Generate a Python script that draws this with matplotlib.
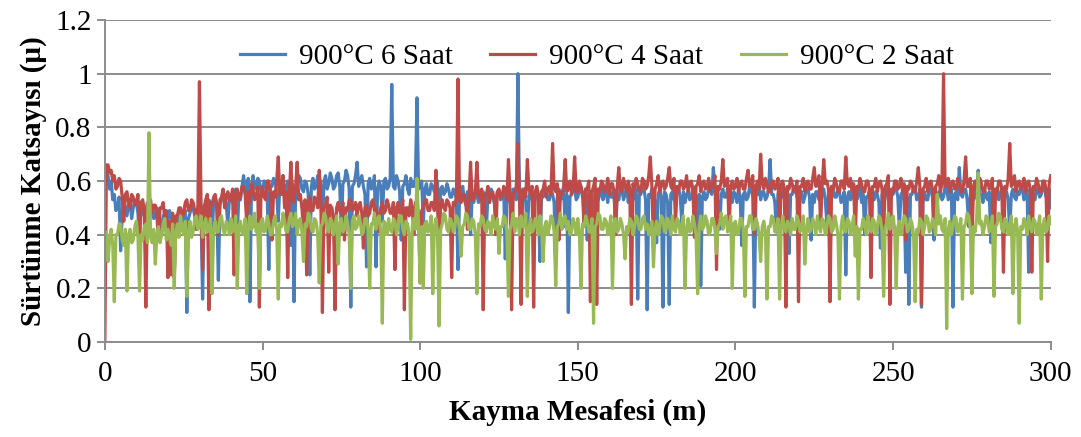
import matplotlib
matplotlib.use("Agg")
import matplotlib.pyplot as plt
import numpy as np

plt.rcParams['font.family'] = 'serif'
plt.rcParams['font.serif'] = ['Liberation Serif', 'DejaVu Serif']

# Kayma mesafesi (m), 0.5 m aralıklarla
mesafe = np.arange(0, 601) * 0.5

# 900°C 6 Saat
mu_6saat = [
    0.58, 0.63, 0.62, 0.57, 0.60, 0.53, 0.55, 0.49, 0.50, 0.54, 0.34, 0.47, 0.53, 0.50, 0.47, 0.51, 0.52, 0.46, 0.50, 0.53,
    0.52, 0.48, 0.38, 0.50, 0.50, 0.47, 0.49, 0.52, 0.45, 0.48, 0.50, 0.46, 0.47, 0.50, 0.49, 0.45, 0.40, 0.47, 0.48, 0.46,
    0.45, 0.49, 0.47, 0.44, 0.24, 0.46, 0.44, 0.48, 0.46, 0.43, 0.47, 0.49, 0.11, 0.46, 0.48, 0.51, 0.50, 0.47, 0.42, 0.49,
    0.52, 0.48, 0.16, 0.51, 0.50, 0.47, 0.53, 0.50, 0.38, 0.52, 0.54, 0.50, 0.23, 0.51, 0.53, 0.55, 0.55, 0.51, 0.44, 0.53,
    0.55, 0.52, 0.54, 0.57, 0.40, 0.55, 0.53, 0.58, 0.62, 0.56, 0.58, 0.61, 0.15, 0.57, 0.62, 0.58, 0.57, 0.61, 0.60, 0.56,
    0.56, 0.60, 0.59, 0.55, 0.27, 0.58, 0.58, 0.61, 0.60, 0.56, 0.45, 0.59, 0.59, 0.62, 0.57, 0.55, 0.60, 0.58, 0.36, 0.59,
    0.15, 0.57, 0.58, 0.62, 0.61, 0.57, 0.56, 0.60, 0.59, 0.55, 0.25, 0.58, 0.61, 0.57, 0.58, 0.62, 0.62, 0.58, 0.42, 0.60,
    0.62, 0.57, 0.59, 0.63, 0.61, 0.57, 0.58, 0.62, 0.63, 0.58, 0.40, 0.59, 0.60, 0.64, 0.62, 0.57, 0.13, 0.58, 0.59, 0.62,
    0.67, 0.58, 0.60, 0.62, 0.58, 0.55, 0.28, 0.59, 0.61, 0.57, 0.58, 0.62, 0.28, 0.57, 0.60, 0.58, 0.45, 0.60, 0.61, 0.57,
    0.58, 0.61, 0.96, 0.58, 0.57, 0.62, 0.60, 0.56, 0.38, 0.58, 0.59, 0.62, 0.57, 0.55, 0.61, 0.58, 0.58, 0.61, 0.91, 0.57,
    0.58, 0.60, 0.44, 0.57, 0.59, 0.55, 0.55, 0.59, 0.58, 0.56, 0.57, 0.60, 0.36, 0.57, 0.58, 0.55, 0.56, 0.59, 0.57, 0.54,
    0.54, 0.57, 0.56, 0.53, 0.27, 0.55, 0.55, 0.58, 0.53, 0.51, 0.56, 0.54, 0.40, 0.55, 0.52, 0.57, 0.55, 0.52, 0.53, 0.56,
    0.56, 0.53, 0.42, 0.55, 0.52, 0.57, 0.55, 0.52, 0.53, 0.56, 0.56, 0.53, 0.54, 0.57, 0.31, 0.54, 0.55, 0.52, 0.53, 0.57,
    0.56, 0.53, 1.00, 0.55, 0.54, 0.57, 0.55, 0.52, 0.40, 0.54, 0.56, 0.53, 0.52, 0.56, 0.55, 0.52, 0.30, 0.55, 0.54, 0.57,
    0.56, 0.53, 0.53, 0.57, 0.55, 0.52, 0.28, 0.54, 0.57, 0.53, 0.54, 0.57, 0.43, 0.55, 0.11, 0.54, 0.55, 0.58, 0.57, 0.53,
    0.54, 0.57, 0.58, 0.54, 0.55, 0.57, 0.38, 0.55, 0.56, 0.53, 0.30, 0.55, 0.57, 0.53, 0.55, 0.58, 0.53, 0.56, 0.56, 0.52,
    0.58, 0.54, 0.54, 0.57, 0.41, 0.55, 0.53, 0.57, 0.57, 0.53, 0.55, 0.58, 0.52, 0.55, 0.56, 0.53, 0.54, 0.57, 0.16, 0.55,
    0.55, 0.58, 0.57, 0.53, 0.12, 0.55, 0.54, 0.57, 0.56, 0.52, 0.37, 0.55, 0.57, 0.54, 0.13, 0.56, 0.55, 0.52, 0.14, 0.55,
    0.56, 0.53, 0.53, 0.57, 0.57, 0.54, 0.44, 0.56, 0.52, 0.55, 0.56, 0.53, 0.54, 0.58, 0.57, 0.53, 0.39, 0.55, 0.21, 0.54,
    0.56, 0.53, 0.54, 0.57, 0.58, 0.55, 0.65, 0.56, 0.55, 0.52, 0.42, 0.55, 0.57, 0.54, 0.54, 0.57, 0.56, 0.53, 0.52, 0.56,
    0.55, 0.52, 0.57, 0.54, 0.36, 0.55, 0.56, 0.53, 0.54, 0.58, 0.57, 0.54, 0.13, 0.55, 0.55, 0.58, 0.53, 0.56, 0.56, 0.53,
    0.54, 0.57, 0.68, 0.55, 0.55, 0.52, 0.41, 0.55, 0.57, 0.54, 0.54, 0.57, 0.56, 0.53, 0.33, 0.55, 0.55, 0.58, 0.57, 0.54,
    0.53, 0.56, 0.56, 0.52, 0.54, 0.57, 0.57, 0.54, 0.38, 0.55, 0.52, 0.56, 0.56, 0.53, 0.54, 0.57, 0.57, 0.53, 0.44, 0.55,
    0.55, 0.58, 0.57, 0.54, 0.54, 0.57, 0.56, 0.52, 0.53, 0.56, 0.25, 0.54, 0.56, 0.53, 0.54, 0.57, 0.57, 0.53, 0.55, 0.58,
    0.52, 0.55, 0.40, 0.54, 0.54, 0.57, 0.57, 0.53, 0.53, 0.56, 0.55, 0.52, 0.35, 0.55, 0.54, 0.57, 0.56, 0.53, 0.53, 0.56,
    0.55, 0.58, 0.57, 0.54, 0.42, 0.55, 0.56, 0.53, 0.26, 0.54, 0.14, 0.55, 0.55, 0.58, 0.57, 0.53, 0.54, 0.57, 0.13, 0.55,
    0.56, 0.53, 0.53, 0.57, 0.57, 0.54, 0.38, 0.55, 0.52, 0.56, 0.56, 0.53, 0.54, 0.58, 0.57, 0.53, 0.55, 0.57, 0.13, 0.55,
    0.56, 0.53, 0.65, 0.55, 0.54, 0.57, 0.57, 0.53, 0.43, 0.55, 0.56, 0.53, 0.54, 0.57, 0.64, 0.55, 0.55, 0.52, 0.57, 0.54,
    0.53, 0.56, 0.37, 0.55, 0.54, 0.57, 0.57, 0.53, 0.55, 0.58, 0.52, 0.55, 0.56, 0.53, 0.41, 0.55, 0.57, 0.54, 0.53, 0.56,
    0.55, 0.58, 0.57, 0.53, 0.54, 0.57, 0.26, 0.55, 0.56, 0.53, 0.53, 0.57, 0.57, 0.54, 0.55, 0.58, 0.58, 0.54, 0.54, 0.57,
    0.50,
]

# 900°C 4 Saat
mu_4saat = [
    0.00, 0.66, 0.66, 0.63, 0.64, 0.60, 0.62, 0.57, 0.58, 0.61, 0.60, 0.54, 0.45, 0.55, 0.56, 0.52, 0.50, 0.55, 0.54, 0.51,
    0.52, 0.55, 0.40, 0.52, 0.53, 0.49, 0.13, 0.51, 0.50, 0.53, 0.48, 0.51, 0.51, 0.47, 0.38, 0.50, 0.50, 0.52, 0.46, 0.49,
    0.24, 0.45, 0.25, 0.48, 0.24, 0.47, 0.47, 0.50, 0.50, 0.47, 0.48, 0.52, 0.53, 0.49, 0.49, 0.53, 0.52, 0.49, 0.42, 0.51,
    0.97, 0.52, 0.27, 0.50, 0.53, 0.55, 0.12, 0.52, 0.51, 0.54, 0.55, 0.51, 0.40, 0.53, 0.54, 0.57, 0.50, 0.54, 0.56, 0.53,
    0.53, 0.57, 0.25, 0.55, 0.57, 0.53, 0.54, 0.58, 0.58, 0.55, 0.44, 0.56, 0.52, 0.59, 0.57, 0.53, 0.54, 0.58, 0.13, 0.55,
    0.58, 0.54, 0.53, 0.60, 0.60, 0.55, 0.38, 0.56, 0.54, 0.60, 0.69, 0.55, 0.55, 0.62, 0.50, 0.56, 0.24, 0.55, 0.67, 0.53,
    0.52, 0.58, 0.67, 0.53, 0.55, 0.50, 0.42, 0.53, 0.25, 0.52, 0.54, 0.49, 0.49, 0.54, 0.53, 0.50, 0.64, 0.52, 0.11, 0.50,
    0.51, 0.54, 0.26, 0.51, 0.50, 0.47, 0.12, 0.50, 0.52, 0.49, 0.48, 0.52, 0.38, 0.50, 0.49, 0.53, 0.53, 0.49, 0.50, 0.52,
    0.47, 0.51, 0.52, 0.48, 0.35, 0.50, 0.51, 0.47, 0.48, 0.52, 0.53, 0.49, 0.50, 0.47, 0.41, 0.50, 0.52, 0.48, 0.49, 0.53,
    0.51, 0.48, 0.48, 0.52, 0.27, 0.50, 0.52, 0.48, 0.49, 0.53, 0.12, 0.50, 0.50, 0.47, 0.53, 0.50, 0.40, 0.52, 0.51, 0.48,
    0.22, 0.49, 0.50, 0.53, 0.53, 0.49, 0.49, 0.52, 0.52, 0.49, 0.64, 0.51, 0.37, 0.52, 0.53, 0.50, 0.49, 0.53, 0.52, 0.50,
    0.24, 0.52, 0.51, 0.54, 0.98, 0.53, 0.52, 0.55, 0.55, 0.52, 0.42, 0.54, 0.67, 0.53, 0.53, 0.56, 0.67, 0.54, 0.54, 0.57,
    0.12, 0.55, 0.55, 0.58, 0.52, 0.55, 0.56, 0.53, 0.40, 0.56, 0.57, 0.54, 0.54, 0.58, 0.56, 0.53, 0.68, 0.56, 0.12, 0.55,
    0.56, 0.58, 0.74, 0.55, 0.14, 0.56, 0.57, 0.54, 0.68, 0.57, 0.55, 0.58, 0.13, 0.56, 0.58, 0.55, 0.44, 0.56, 0.57, 0.60,
    0.54, 0.57, 0.58, 0.55, 0.74, 0.57, 0.56, 0.59, 0.38, 0.56, 0.55, 0.58, 0.68, 0.56, 0.57, 0.60, 0.55, 0.57, 0.69, 0.56,
    0.56, 0.60, 0.58, 0.55, 0.43, 0.57, 0.57, 0.60, 0.15, 0.56, 0.58, 0.61, 0.14, 0.57, 0.56, 0.60, 0.59, 0.56, 0.57, 0.61,
    0.55, 0.59, 0.59, 0.56, 0.40, 0.58, 0.65, 0.57, 0.56, 0.61, 0.58, 0.56, 0.60, 0.57, 0.14, 0.59, 0.57, 0.61, 0.59, 0.56,
    0.56, 0.61, 0.60, 0.57, 0.58, 0.62, 0.69, 0.58, 0.36, 0.57, 0.59, 0.62, 0.56, 0.59, 0.60, 0.57, 0.58, 0.61, 0.65, 0.58,
    0.57, 0.61, 0.44, 0.58, 0.56, 0.60, 0.60, 0.57, 0.58, 0.62, 0.56, 0.59, 0.60, 0.57, 0.39, 0.58, 0.59, 0.62, 0.56, 0.59,
    0.60, 0.57, 0.58, 0.61, 0.56, 0.59, 0.59, 0.62, 0.27, 0.58, 0.57, 0.60, 0.68, 0.58, 0.59, 0.61, 0.42, 0.58, 0.60, 0.57,
    0.58, 0.61, 0.56, 0.59, 0.60, 0.57, 0.57, 0.61, 0.64, 0.58, 0.59, 0.62, 0.40, 0.58, 0.60, 0.57, 0.70, 0.59, 0.57, 0.61,
    0.59, 0.56, 0.56, 0.60, 0.60, 0.57, 0.58, 0.61, 0.37, 0.59, 0.60, 0.57, 0.13, 0.58, 0.57, 0.61, 0.59, 0.56, 0.56, 0.60,
    0.15, 0.58, 0.58, 0.61, 0.56, 0.59, 0.60, 0.57, 0.57, 0.61, 0.65, 0.58, 0.59, 0.62, 0.43, 0.58, 0.68, 0.59, 0.60, 0.57,
    0.15, 0.58, 0.57, 0.61, 0.59, 0.56, 0.56, 0.60, 0.60, 0.57, 0.69, 0.59, 0.58, 0.61, 0.56, 0.59, 0.39, 0.58, 0.57, 0.61,
    0.59, 0.56, 0.56, 0.60, 0.60, 0.57, 0.24, 0.58, 0.58, 0.61, 0.56, 0.59, 0.60, 0.57, 0.41, 0.58, 0.59, 0.62, 0.14, 0.57,
    0.56, 0.60, 0.60, 0.57, 0.58, 0.61, 0.56, 0.59, 0.38, 0.58, 0.57, 0.60, 0.59, 0.56, 0.56, 0.60, 0.65, 0.58, 0.14, 0.57,
    0.58, 0.61, 0.56, 0.59, 0.60, 0.57, 0.42, 0.58, 0.59, 0.62, 0.56, 0.59, 1.00, 0.58, 0.58, 0.61, 0.56, 0.59, 0.60, 0.57,
    0.57, 0.61, 0.59, 0.56, 0.56, 0.60, 0.69, 0.58, 0.58, 0.61, 0.36, 0.58, 0.60, 0.57, 0.57, 0.61, 0.59, 0.56, 0.56, 0.60,
    0.60, 0.57, 0.58, 0.61, 0.30, 0.57, 0.56, 0.60, 0.60, 0.57, 0.26, 0.58, 0.57, 0.61, 0.74, 0.58, 0.59, 0.62, 0.56, 0.59,
    0.60, 0.57, 0.58, 0.61, 0.56, 0.59, 0.60, 0.57, 0.26, 0.58, 0.57, 0.61, 0.59, 0.56, 0.56, 0.60, 0.60, 0.57, 0.30, 0.59,
    0.62,
]

# 900°C 2 Saat
mu_2saat = [
    0.35, 0.41, 0.30, 0.38, 0.42, 0.36, 0.15, 0.40, 0.40, 0.44, 0.44, 0.38, 0.36, 0.42, 0.19, 0.40, 0.42, 0.37, 0.38, 0.43,
    0.45, 0.39, 0.19, 0.40, 0.38, 0.43, 0.44, 0.37, 0.78, 0.39, 0.37, 0.42, 0.29, 0.40, 0.43, 0.37, 0.40, 0.44, 0.46, 0.38,
    0.42, 0.39, 0.36, 0.44, 0.20, 0.41, 0.44, 0.39, 0.47, 0.42, 0.40, 0.45, 0.17, 0.41, 0.45, 0.39, 0.41, 0.46, 0.47, 0.42,
    0.43, 0.47, 0.39, 0.44, 0.46, 0.41, 0.42, 0.46, 0.18, 0.42, 0.45, 0.41, 0.41, 0.46, 0.47, 0.42, 0.40, 0.45, 0.44, 0.40,
    0.46, 0.41, 0.42, 0.47, 0.20, 0.43, 0.45, 0.41, 0.40, 0.46, 0.18, 0.43, 0.47, 0.42, 0.43, 0.48, 0.41, 0.44, 0.20, 0.45,
    0.46, 0.41, 0.42, 0.47, 0.44, 0.40, 0.40, 0.45, 0.47, 0.42, 0.16, 0.44, 0.43, 0.48, 0.45, 0.41, 0.41, 0.46, 0.48, 0.43,
    0.44, 0.48, 0.40, 0.45, 0.46, 0.41, 0.30, 0.44, 0.43, 0.48, 0.47, 0.42, 0.41, 0.46, 0.45, 0.40, 0.22, 0.43, 0.44, 0.48,
    0.47, 0.42, 0.41, 0.46, 0.45, 0.40, 0.43, 0.47, 0.29, 0.44, 0.46, 0.41, 0.42, 0.47, 0.44, 0.40, 0.20, 0.45, 0.47, 0.42,
    0.43, 0.47, 0.45, 0.40, 0.41, 0.46, 0.46, 0.42, 0.20, 0.44, 0.44, 0.48, 0.42, 0.46, 0.47, 0.41, 0.07, 0.45, 0.44, 0.40,
    0.46, 0.42, 0.41, 0.46, 0.45, 0.40, 0.43, 0.47, 0.47, 0.42, 0.40, 0.45, 0.44, 0.40, 0.01, 0.43, 0.46, 0.42, 0.61, 0.44,
    0.22, 0.43, 0.20, 0.44, 0.45, 0.41, 0.42, 0.47, 0.18, 0.43, 0.46, 0.41, 0.06, 0.42, 0.44, 0.48, 0.47, 0.42, 0.41, 0.46,
    0.45, 0.41, 0.43, 0.47, 0.46, 0.42, 0.32, 0.43, 0.44, 0.48, 0.47, 0.42, 0.42, 0.46, 0.45, 0.40, 0.18, 0.44, 0.43, 0.47,
    0.46, 0.42, 0.41, 0.45, 0.44, 0.40, 0.47, 0.43, 0.42, 0.46, 0.33, 0.43, 0.43, 0.47, 0.46, 0.41, 0.17, 0.42, 0.44, 0.48,
    0.41, 0.46, 0.45, 0.40, 0.47, 0.43, 0.43, 0.48, 0.17, 0.42, 0.46, 0.41, 0.42, 0.46, 0.44, 0.40, 0.47, 0.42, 0.30, 0.43,
    0.45, 0.40, 0.43, 0.47, 0.46, 0.41, 0.21, 0.43, 0.44, 0.48, 0.42, 0.46, 0.47, 0.42, 0.45, 0.40, 0.41, 0.46, 0.44, 0.40,
    0.46, 0.41, 0.20, 0.44, 0.43, 0.47, 0.45, 0.41, 0.41, 0.46, 0.07, 0.43, 0.44, 0.48, 0.47, 0.42, 0.42, 0.46, 0.45, 0.40,
    0.43, 0.47, 0.20, 0.44, 0.46, 0.41, 0.42, 0.46, 0.44, 0.40, 0.31, 0.43, 0.41, 0.46, 0.45, 0.40, 0.43, 0.47, 0.46, 0.42,
    0.42, 0.46, 0.47, 0.42, 0.44, 0.40, 0.41, 0.45, 0.28, 0.42, 0.45, 0.40, 0.43, 0.47, 0.46, 0.41, 0.42, 0.46, 0.44, 0.40,
    0.47, 0.42, 0.41, 0.46, 0.45, 0.40, 0.43, 0.47, 0.20, 0.42, 0.46, 0.41, 0.42, 0.47, 0.44, 0.40, 0.18, 0.43, 0.47, 0.42,
    0.43, 0.47, 0.45, 0.40, 0.41, 0.46, 0.46, 0.42, 0.33, 0.43, 0.44, 0.48, 0.42, 0.46, 0.47, 0.41, 0.43, 0.47, 0.20, 0.44,
    0.45, 0.40, 0.41, 0.46, 0.46, 0.42, 0.17, 0.43, 0.43, 0.47, 0.47, 0.42, 0.42, 0.46, 0.44, 0.40, 0.30, 0.43, 0.45, 0.41,
    0.16, 0.43, 0.43, 0.47, 0.46, 0.41, 0.42, 0.46, 0.16, 0.43, 0.47, 0.42, 0.41, 0.45, 0.44, 0.40, 0.46, 0.42, 0.42, 0.47,
    0.45, 0.41, 0.43, 0.47, 0.29, 0.42, 0.46, 0.41, 0.42, 0.46, 0.44, 0.40, 0.47, 0.43, 0.41, 0.46, 0.45, 0.40, 0.43, 0.47,
    0.46, 0.41, 0.42, 0.47, 0.44, 0.40, 0.16, 0.43, 0.47, 0.42, 0.41, 0.46, 0.45, 0.40, 0.43, 0.47, 0.32, 0.43, 0.16, 0.42,
    0.42, 0.46, 0.44, 0.40, 0.47, 0.43, 0.41, 0.46, 0.45, 0.40, 0.43, 0.47, 0.46, 0.41, 0.17, 0.43, 0.44, 0.48, 0.42, 0.46,
    0.47, 0.42, 0.20, 0.43, 0.45, 0.40, 0.43, 0.47, 0.46, 0.41, 0.42, 0.46, 0.44, 0.40, 0.15, 0.42, 0.41, 0.46, 0.45, 0.40,
    0.43, 0.47, 0.46, 0.41, 0.42, 0.46, 0.44, 0.40, 0.55, 0.44, 0.47, 0.42, 0.41, 0.46, 0.05, 0.42, 0.45, 0.40, 0.43, 0.47,
    0.46, 0.41, 0.42, 0.46, 0.16, 0.43, 0.44, 0.48, 0.47, 0.42, 0.18, 0.43, 0.41, 0.46, 0.63, 0.44, 0.45, 0.40, 0.43, 0.47,
    0.46, 0.41, 0.42, 0.47, 0.17, 0.43, 0.44, 0.48, 0.47, 0.42, 0.41, 0.46, 0.45, 0.40, 0.43, 0.47, 0.18, 0.43, 0.46, 0.41,
    0.07, 0.43, 0.42, 0.46, 0.44, 0.40, 0.47, 0.43, 0.41, 0.46, 0.45, 0.40, 0.43, 0.47, 0.16, 0.43, 0.46, 0.41, 0.42, 0.47,
    0.44,
]

for seri in (mu_6saat, mu_4saat, mu_2saat):
    if len(seri) != len(mesafe):
        raise ValueError("uzunluk hatası: %d" % len(seri))

seriler = ["900°C 6 Saat", "900°C 4 Saat", "900°C 2 Saat"]
renkler = ["#4A7EBB", "#BE4B48", "#98B954"]
y_ticks = [0, 0.2, 0.4, 0.6, 0.8, 1.0, 1.2]
y_etiket = ["0", "0.2", "0.4", "0.6", "0.8", "1", "1.2"]
x_ticks = [0, 50, 100, 150, 200, 250, 300]

fig = plt.figure(figsize=(10.81, 4.37), dpi=100)
ax = fig.add_axes([0.097, 0.2174, 0.875, 0.7368])

for veri, ad, renk in zip([mu_6saat, mu_4saat, mu_2saat], seriler, renkler):
    ax.plot(mesafe, veri, color=renk, lw=2.3, label=ad)

gri = "#8C8C8C"
ax.set_xlim(0, 300)
ax.set_ylim(0, 1.2)
ax.set_yticks(y_ticks)
ax.set_yticklabels(y_etiket)
ax.set_xticks(x_ticks)
ax.grid(axis="y", color=gri, lw=1.4)
ax.set_axisbelow(True)
for s in ["top", "right"]:
    ax.spines[s].set_visible(False)
for s in ["left", "bottom"]:
    ax.spines[s].set_color(gri)
    ax.spines[s].set_linewidth(1.4)
ax.tick_params(axis="both", colors=gri, width=1.4, length=6, labelsize=21, labelcolor="black")
ax.tick_params(axis="x", pad=8)

ax.set_xlabel("Kayma Mesafesi (m)", fontsize=21, fontweight="bold", labelpad=8)
ax.set_ylabel("Sürtünme Katsayısı (μ)", fontsize=21, fontweight="bold", labelpad=6)

ax.legend(ncol=3, loc="center", bbox_to_anchor=(0.52, 0.885), frameon=False,
          fontsize=21, handlelength=1.55, handletextpad=0.48, columnspacing=1.28)

fig.savefig("out.png", dpi=100)
